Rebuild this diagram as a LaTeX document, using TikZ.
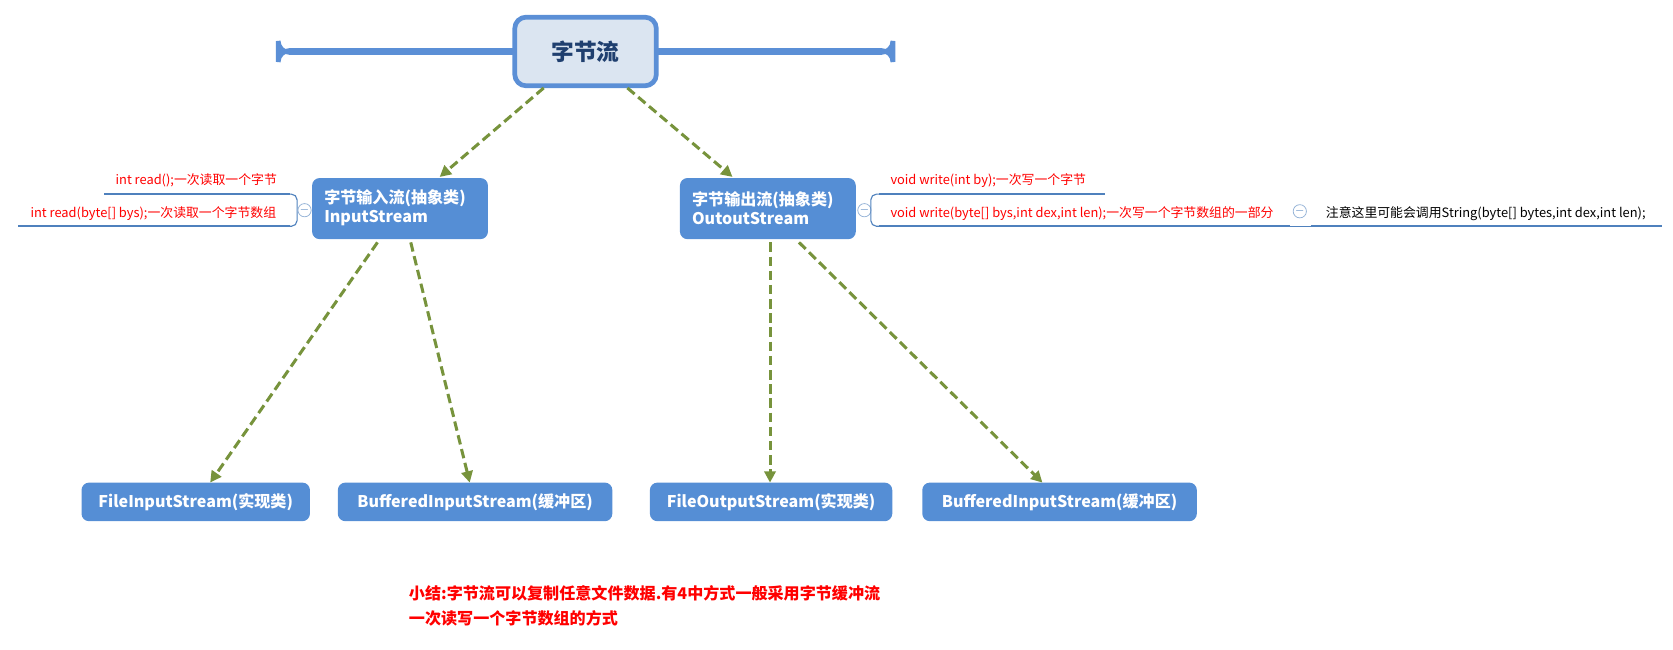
\documentclass[tikz,border=0pt]{standalone}
\usepackage{fontspec}
\setmainfont{Noto Sans CJK SC}
\usetikzlibrary{arrows.meta}
\definecolor{boxblue}{HTML}{558ED5}
\definecolor{rootfill}{HTML}{DBE5F1}
\definecolor{rootdraw}{HTML}{5B8FD6}
\definecolor{rootText}{HTML}{1F3F6F}
\definecolor{arrowgreen}{HTML}{77933C}
\definecolor{noteline}{HTML}{4F81BD}
\begin{document}
\begin{tikzpicture}[x=0.567pt,y=-0.567pt,
        classbox/.style={fill=boxblue,rounded corners=4pt,text=white,font=\fontsize{8.5}{10}\selectfont\bfseries,inner sep=0pt},
        linkarrow/.style={draw=arrowgreen,line width=1.6pt,dash pattern=on 5pt off 2.5pt,-{Triangle[length=6pt,width=6pt]}},
        notetext/.style={text=red,font=\fontsize{6.8}{8}\selectfont,inner sep=0pt},
        noteline/.style={draw=noteline,line width=1.2pt},
        foldmark/.style={circle,draw=noteline!60,fill=white,minimum size=7pt,inner sep=0pt,font=\fontsize{5}{5}\selectfont,text=noteline}
    ]
    \useasboundingbox (0,0) rectangle (1560,606);
    % root
    \node [draw=rootdraw,line width=2.5pt,fill=rootfill,rounded corners=6pt,minimum width=130\pgflinewidth,
        text=rootText,font=\fontsize{12}{14}\selectfont\bfseries,inner sep=0pt] (root) at (546,48)
        {\rule{0pt}{0pt}};
    \path [draw=rootdraw,line width=2.5pt,fill=rootfill,rounded corners=6pt] (480,16) rectangle (612,80);
    \node [text=rootText,font=\fontsize{12}{14}\selectfont\bfseries] (roottext) at (546,48) {字节流};
    % abstract classes
    \path [classbox] (291,166) rectangle (455,223);
    \node [classbox,fill=none,align=left,anchor=west] (in) at (302,194) {字节输入流(抽象类)\\InputStream};
    \path [classbox] (634,166) rectangle (798,223);
    \node [classbox,fill=none,align=left,anchor=west] (out) at (645,194) {字节输出流(抽象类)\\OutoutStream};
    % implementations
    \path [classbox] (76,450) rectangle (289,486);
    \node [classbox,fill=none] (fis) at (182.5,468) {FileInputStream(实现类)};
    \path [classbox] (315,450) rectangle (571,486);
    \node [classbox,fill=none] (bis) at (443,468) {BufferedInputStream(缓冲区)};
    \path [classbox] (606,450) rectangle (832,486);
    \node [classbox,fill=none] (fos) at (719,468) {FileOutputStream(实现类)};
    \path [classbox] (860,450) rectangle (1116,486);
    \node [classbox,fill=none] (bos) at (988,468) {BufferedInputStream(缓冲区)};
    % arrows
    \draw [linkarrow] (507,82) -- (410,165);
    \draw [linkarrow] (585,82) -- (683,165);
    \draw [linkarrow] (352,226) -- (196,450);
    \draw [linkarrow] (383,226) -- (438,450);
    \draw [linkarrow] (718,226) -- (718,450);
    \draw [linkarrow] (745,226) -- (972,450);
    % input notes
    \node [notetext] (read1) at (183,168) {int read();一次读取一个字节};
    \draw [noteline] (97,181) -- (270,181);
    \node [notetext] (read2) at (143,199) {int read(byte[] bys);一次读取一个字节数组};
    \draw [noteline] (17,211) -- (270,211);
    \draw [draw=noteline,line width=0.6pt,rounded corners=3pt] (270,181) -- (277,181) -- (277,211) -- (270,211);
    \node [foldmark] (infold) at (284,196) {$-$};
    % output notes
    \node [foldmark] (outfold) at (806,196) {$-$};
    \draw [draw=noteline,line width=0.6pt,rounded corners=3pt] (820,181) -- (812,181) -- (812,211) -- (820,211);
    \node [notetext,anchor=west] (write1) at (830,168) {void write(int by);一次写一个字节};
    \draw [noteline] (820,181) -- (1030,181);
    \node [notetext,anchor=west] (write2) at (830,199) {void write(byte[] bys,int dex,int len);一次写一个字节数组的一部分};
    \draw [noteline] (820,211) -- (1203,211);
    \node [foldmark] (wfold) at (1212,197) {$-$};
    \draw [draw=noteline,line width=0.6pt] (1203,211) -- (1222,211);
    \node [notetext,text=black,anchor=west] (hint) at (1236,199) {注意这里可能会调用String(byte[] bytes,int dex,int len);};
    \draw [noteline] (1222,211) -- (1550,211);
    % summary
    \node [text=red,font=\fontsize{8.5}{13}\selectfont\bfseries,align=left,anchor=north west,inner sep=0pt] (summary) at (381,546)
        {小结:字节流可以复制任意文件数据.有4中方式一般采用字节缓冲流\\一次读写一个字节数组的方式};
\end{tikzpicture}
\end{document}
